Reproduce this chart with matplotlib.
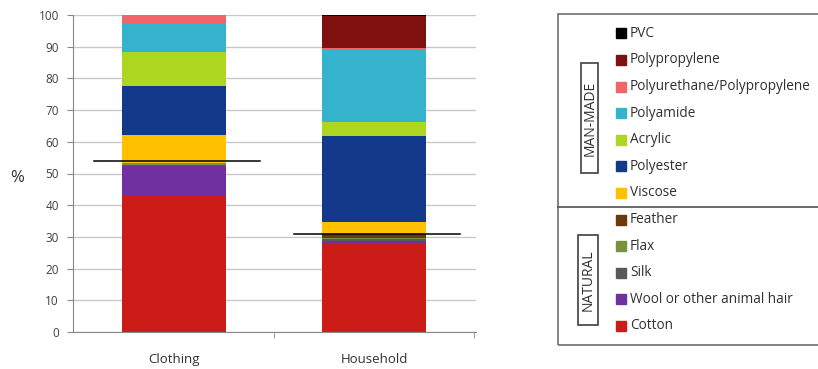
import numpy as np
import matplotlib
matplotlib.use('Agg')
import matplotlib.pyplot as plt
from matplotlib.patches import Rectangle
from matplotlib.lines import Line2D

plt.rcParams['font.family'] = ['Open Sans', 'DejaVu Sans']

# Data (percent of items)
groups = ['Clothing', 'Household']
materials = ['Cotton', 'Wool or other animal hair', 'Silk', 'Flax', 'Feather',
             'Viscose', 'Polyester', 'Acrylic', 'Polyamide',
             'Polyurethane/Polypropylene', 'Polypropylene', 'PVC']
clothing = [43.0, 9.4, 0.4, 0.6, 0.0, 8.7, 15.5, 10.7, 9.2, 2.5, 0.0, 0.0]
household = [28.0, 0.8, 0.5, 0.5, 1.0, 3.8, 27.2, 4.4, 22.8, 0.7, 9.9, 0.4]
colors = ['#cc1c18', '#7030a0', '#595959', '#77933c', '#6b3a0c',
          '#ffc000', '#133a8a', '#acd620', '#36b3cc',
          '#f06565', '#7f1010', '#000000']
# natural / man-made split markers drawn on each bar
split_levels = [54.0, 30.8]

man_made = ['PVC', 'Polypropylene', 'Polyurethane/Polypropylene', 'Polyamide',
            'Acrylic', 'Polyester', 'Viscose']
natural = ['Feather', 'Flax', 'Silk', 'Wool or other animal hair', 'Cotton']

W, H = 818, 369
fig = plt.figure(figsize=(W / 100, H / 100), dpi=100)
ax = fig.add_axes([72.7 / W, 1 - 332 / H, (476 - 72.7) / W, (332 - 15) / H])

x = np.arange(len(groups))
values = np.array([clothing, household])
bottom = np.zeros(len(groups))
for i, m in enumerate(materials):
    ax.bar(x, values[:, i], 0.52, bottom=bottom, color=colors[i], zorder=2)
    bottom += values[:, i]

for xi, lvl in zip(x, split_levels):
    ax.plot([xi - 0.40, xi + 0.43], [lvl, lvl], color='black', lw=1.1, zorder=3,
            clip_on=False)

ax.set_xlim(-0.507, 1.51)
ax.set_ylim(0, 100)
ax.set_yticks(np.arange(0, 101, 10))
ax.yaxis.grid(True, color='#c8c8c8', lw=1, zorder=0)
ax.set_axisbelow(True)
ax.set_xticks(x)
ax.set_xticklabels(groups)
ax.set_xticks([0.5, 1.5], minor=True)
ax.tick_params(axis='x', which='major', length=0, pad=15, labelsize=9.5, labelcolor='#303030')
ax.tick_params(axis='x', which='minor', length=4, color='#888888')
ax.tick_params(axis='y', length=4, color='#888888', pad=6, labelsize=8.5, labelcolor='#404040')
for s in ['top', 'right']:
    ax.spines[s].set_visible(False)
for s in ['left', 'bottom']:
    ax.spines[s].set_color('#888888')
fig.text(17 / W, 1 - 178 / H, '%', fontsize=12, color='#303030', va='center', ha='center')

# legend panel, drawn by hand in pixel coordinates
def fx(px):
    return px / W

def fy(py):
    return 1 - py / H

def pixel_rect(x0, y0, x1, y1, **kw):
    return Rectangle((fx(x0), fy(y1)), fx(x1) - fx(x0), fy(y0) - fy(y1),
                     transform=fig.transFigure, **kw)

fig.patches.append(pixel_rect(558, 14, 860, 345, fill=False, edgecolor='#707070', lw=1.2))
fig.lines.append(Line2D([fx(558), fx(830)], [fy(207), fy(207)], transform=fig.transFigure,
                        color='#505050', lw=1.2))

order = man_made + natural
for k, name in enumerate(order):
    yc = 33.3 + k * 26.6
    c = colors[materials.index(name)]
    fig.patches.append(pixel_rect(616, yc - 5, 626, yc + 5, color=c))
    fig.text(fx(630), fy(yc), name, fontsize=9.8, color='#303030', va='center', ha='left')

fig.patches.append(pixel_rect(581, 63.3, 598.3, 173.3, fill=False, edgecolor='#404040', lw=1.2))
fig.patches.append(pixel_rect(578, 235, 598.3, 325, fill=False, edgecolor='#404040', lw=1.2))
fig.text(fx(589.7), fy(118.5), 'MAN-MADE', rotation=90, fontsize=10, color='#303030',
         va='center', ha='center')
fig.text(fx(588), fy(280), 'NATURAL', rotation=90, fontsize=10, color='#303030',
         va='center', ha='center')

fig.savefig('out.png', dpi=100)
